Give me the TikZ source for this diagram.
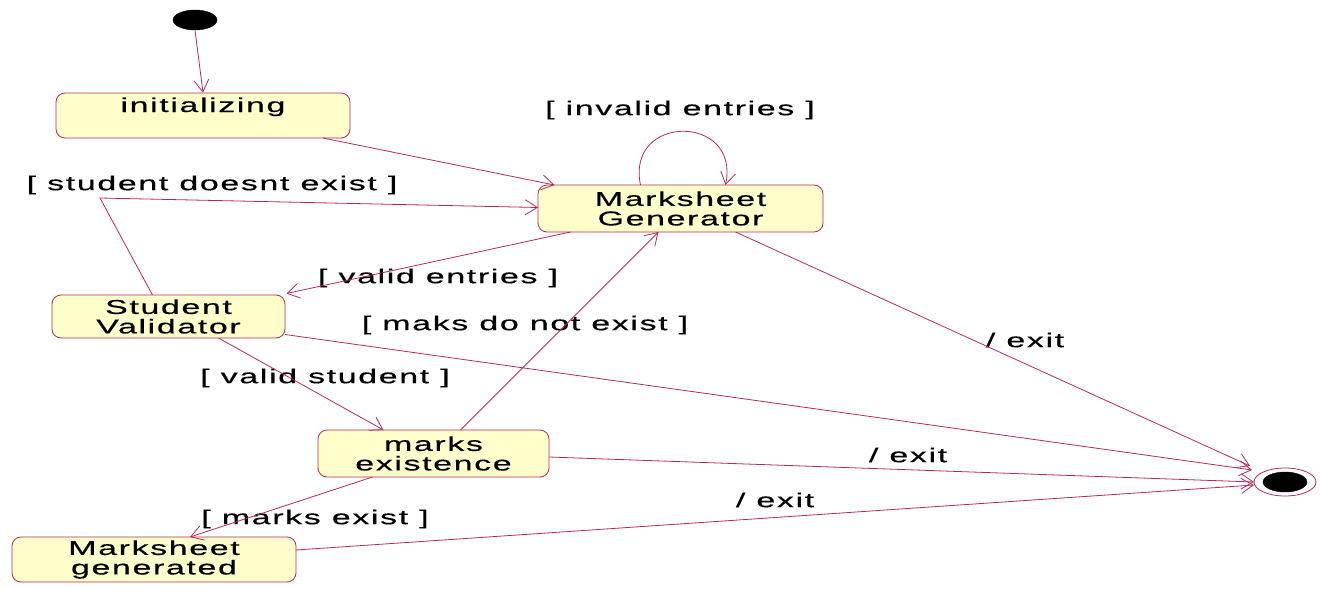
\documentclass[tikz,border=0pt]{standalone}
\usepackage{fontspec}
\setmainfont{Liberation Sans}
\newfontfamily\lblfont[FakeStretch=1.7,LetterSpace=8,FakeBold=0.4]{Liberation Sans}
\usetikzlibrary{arrows.meta,shapes.geometric,calc}
\definecolor{edgecol}{RGB}{180,40,90}
\definecolor{statefill}{RGB}{255,255,204}
\begin{document}
\begin{tikzpicture}[x=1pt,y=-1pt,
  txt/.style={font=\lblfont\fontsize{20}{19.5}\selectfont, inner sep=0pt, align=center},
  state/.style={txt, draw=edgecol, fill=statefill, rounded corners=9pt, line width=0.8pt},
  conn/.style={draw=edgecol, line width=0.8pt, -{Straight Barb[length=12pt,width=15pt]}},
  dot/.style={ellipse, fill=black, draw=black, inner sep=0pt}
]
\useasboundingbox (0,0) rectangle (1320,589);
% states
\node[dot, minimum width=44pt, minimum height=20pt] (init) at (195,20) {};
\node[state, minimum width=294pt, minimum height=45pt, text height=15pt, text depth=22pt] (ini) at (203,115.5) {initializing};
\node[state, minimum width=285pt, minimum height=47pt] (mg) at (680.5,208.5) {Marksheet\\Generator};
\node[state, minimum width=233pt, minimum height=43pt] (sv) at (168.5,316.5) {Student\\Validator};
\node[state, minimum width=231pt, minimum height=47pt] (me) at (433.5,453.5) {marks\\existence};
\node[state, minimum width=284pt, minimum height=45pt] (msg) at (154,559.5) {Marksheet\\generated};
\node[ellipse, draw=edgecol, fill=white, line width=0.8pt, minimum width=62pt, minimum height=28pt, inner sep=0pt] (fin) at (1285,482) {};
\node[dot, minimum width=44pt, minimum height=20pt] (finin) at (fin) {};
\coordinate (bend) at (100,198);
% labels
\node[txt] (l1) at (680,110) {[ invalid entries ]};
\node[txt] (l2) at (212,185) {[ student doesnt exist ]};
\node[txt] (l3) at (438,278) {[ valid entries ]};
\node[txt] (l4) at (525,325) {[ maks do not exist ]};
\node[txt] (l5) at (325,378) {[ valid student ]};
\node[txt] (l6) at (1025,340) {/ exit};
\node[txt] (l7) at (908,455) {/ exit};
\node[txt] (l8) at (775,500) {/ exit};
\node[txt] (l9) at (315,519) {[ marks exist ]};
% connectors
\draw[conn] (init.south) -- (ini.north);
\draw[conn] ($(ini)+(120,22.5)$) -- ($(mg)+(-126,-23.5)$);
\draw[conn] ($(sv)+(-16,-21.5)$) -- (bend) -- ($(mg)+(-142.5,-1)$);
\draw[conn] ($(mg)+(-110,23.5)$) -- ($(sv)+(118,-23)$);
\draw[conn] ($(mg)+(-40,-23.5)$) .. controls ($(mg)+(-55,-95)$) and ($(mg)+(60,-95)$) .. ($(mg)+(45,-23.5)$);
\draw[conn] ($(sv)+(116.5,18)$) -- ($(fin)+(-33,-12)$);
\draw[conn] ($(sv)+(50,21.5)$) -- ($(me)+(-50,-23.5)$);
\draw[conn] ($(me)+(27,-23.5)$) -- ($(mg)+(-22,23.5)$);
\draw[conn] ($(mg)+(55,23.5)$) -- ($(fin)+(-35,-16)$);
\draw[conn] ($(me)+(115.5,3.5)$) -- ($(fin)+(-31,0)$);
\draw[conn] ($(me)+(-61,23.5)$) -- ($(msg)+(36,-22.5)$);
\draw[conn] ($(msg)+(142,-9.5)$) -- ($(fin)+(-31,3)$);
\end{tikzpicture}
\end{document}
